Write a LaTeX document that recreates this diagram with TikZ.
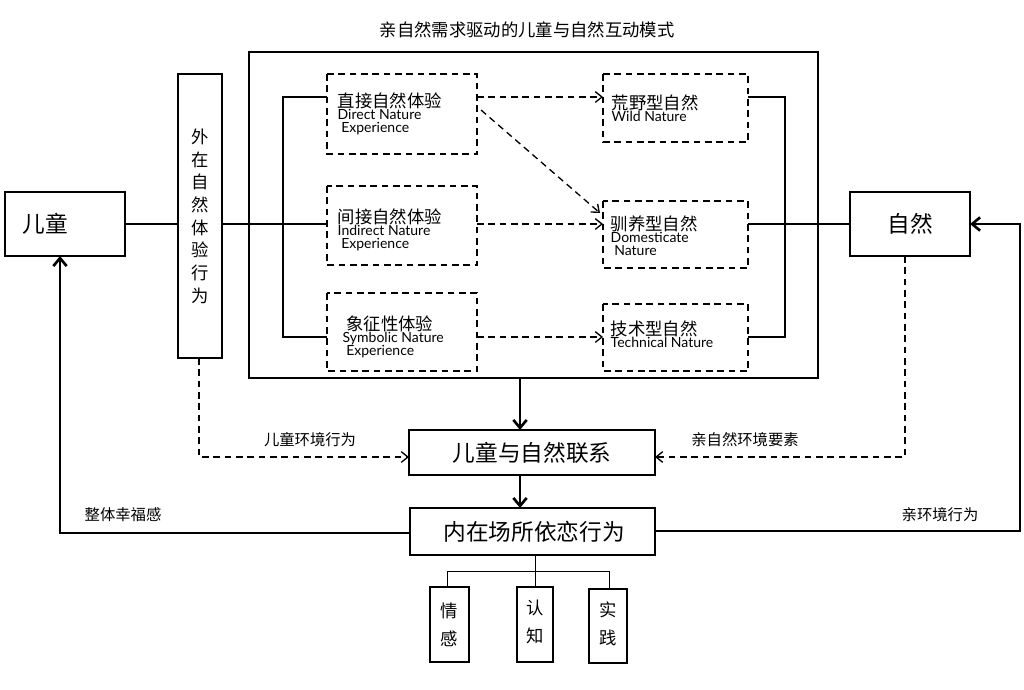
\documentclass[tikz,border=0pt]{standalone}
\usepackage{fontspec}
\setmainfont{Noto Sans CJK SC}
\newfontfamily\latinf{Lato}
\usetikzlibrary{arrows.meta}
\begin{document}
\begin{tikzpicture}[x=0.75pt,y=-0.75pt,
  thk/.style={line width=2pt},
  thn/.style={line width=0.9pt},
  dsh/.style={line width=1pt,dash pattern=on 5pt off 3.5pt},
  arr/.style={-{Straight Barb[length=6pt,width=10pt]}},
  darr/.style={dsh,-{Straight Barb[length=5pt,width=8pt]}},
  cn/.style={font=\fontsize{13}{15}\selectfont},
  lab/.style={font=\fontsize{11.5}{13}\selectfont}]
\useasboundingbox (0,0) rectangle (1024,689);
\node[font=\fontsize{13}{15}\selectfont] (title) at (527,30) {亲自然需求驱动的儿童与自然互动模式};
\draw[thk] (249,52) rectangle (818,378);
\coordinate (bigbot) at (520,378);
% side boxes
\draw[thk] (5,192) rectangle (125,256); \node[font=\fontsize{17}{19}\selectfont] (child) at (45,224) {儿童};
\draw[thk] (850,192) rectangle (970,256); \node[font=\fontsize{17}{19}\selectfont] (nat) at (910,224) {自然};
\draw[thn] (178,74) rectangle (222,358);
\node[cn,align=center] (ext) at (200,216) {外\\[2pt]在\\[2pt]自\\[2pt]然\\[2pt]体\\[2pt]验\\[2pt]行\\[2pt]为};
% left dashed boxes
\draw[dsh] (327,74) rectangle (477,154);
\node[anchor=west,align=left] (d1) at (333,114) {{\fontsize{13}{15}\selectfont 直接自然体验}\\[-3pt]{\latinf\fontsize{10.5}{12}\selectfont Direct Nature}\\[-2pt]{\latinf\fontsize{10.5}{12}\selectfont \ Experience}};
\draw[dsh] (327,186) rectangle (477,265);
\node[anchor=west,align=left] (d2) at (333,230) {{\fontsize{13}{15}\selectfont 间接自然体验}\\[-3pt]{\latinf\fontsize{10.5}{12}\selectfont Indirect Nature}\\[-2pt]{\latinf\fontsize{10.5}{12}\selectfont \ Experience}};
\draw[dsh] (327,293) rectangle (477,371);
\node[anchor=west,align=left] (d3) at (338,337) {{\fontsize{13}{15}\selectfont \ 象征性体验}\\[-3pt]{\latinf\fontsize{10.5}{12}\selectfont Symbolic Nature}\\[-2pt]{\latinf\fontsize{10.5}{12}\selectfont \ Experience}};
% right dashed boxes
\draw[dsh] (603,74) rectangle (748,142);
\node[anchor=west,align=left] (w1) at (607,108) {{\fontsize{13}{15}\selectfont 荒野型自然}\\[-3pt]{\latinf\fontsize{10.5}{12}\selectfont Wild Nature}};
\draw[dsh] (603,201) rectangle (748,268);
\node[anchor=west,align=left] (w2) at (606,236) {{\fontsize{13}{15}\selectfont 驯养型自然}\\[-3pt]{\latinf\fontsize{10.5}{12}\selectfont Domesticate}\\[-2pt]{\latinf\fontsize{10.5}{12}\selectfont \ Nature}};
\draw[dsh] (603,304) rectangle (748,371);
\node[anchor=west,align=left] (w3) at (606,334) {{\fontsize{13}{15}\selectfont 技术型自然}\\[-3pt]{\latinf\fontsize{10.5}{12}\selectfont Technical Nature}};
% brackets
\draw[thn] (327,97) -- (283,97) -- (283,337) -- (327,337);
\draw[thn] (125,224) -- (178,224);
\draw[thn] (222,224) -- (327,224);
\draw[thn] (748,97) -- (785,97) -- (785,337) -- (748,337);
\draw[thn] (748,224) -- (850,224);
% dashed arrows
\draw[darr] (477,97) -- (603,97);
\draw[darr] (477,224) -- (603,224);
\draw[darr] (477,337) -- (603,337);
\draw[darr] (481,110) -- (600,213);
% centre
\draw[thk] (409,430) rectangle (655,475);
\node[font=\fontsize{17}{19}\selectfont] (link) at (532,453) {儿童与自然联系};
\draw[thk,arr] (bigbot) -- (520,430);
\draw[thk,arr] (520,475) -- (520,508);
\draw[thn] (410,508) rectangle (655,555);
\node[font=\fontsize{17}{19}\selectfont] (att) at (534,532) {内在场所依恋行为};
% dashed feedback
\draw[darr] (199,358) -- (199,457) -- (409,457);
\node[lab] (l1) at (310,440) {儿童环境行为};
\draw[darr] (905,256) -- (905,457) -- (655,457);
\node[lab] (l2) at (745,440) {亲自然环境要素};
% thick loops
\draw[thk,arr] (410,533) -- (60,533) -- (60,256);
\node[lab] (l3) at (123,515) {整体幸福感};
\draw[thk,arr] (655,531) -- (1020,531) -- (1020,224) -- (970,224);
\node[lab] (l4) at (940,515) {亲环境行为};
% tree
\draw[line width=0.6pt] (535,555) -- (535,587);
\draw[line width=0.6pt] (447,587) -- (447,571) -- (609,571) -- (609,589);
\draw[thn] (430,587) rectangle (469,662); \node[cn,align=center] (q1) at (449,625) {情\\[6pt]感};
\draw[thn] (517,587) rectangle (553,662); \node[cn,align=center] (q2) at (535,622) {认\\[6pt]知};
\draw[thn] (589,589) rectangle (627,663); \node[cn,align=center] (q3) at (608,624) {实\\[6pt]践};
\end{tikzpicture}
\end{document}
